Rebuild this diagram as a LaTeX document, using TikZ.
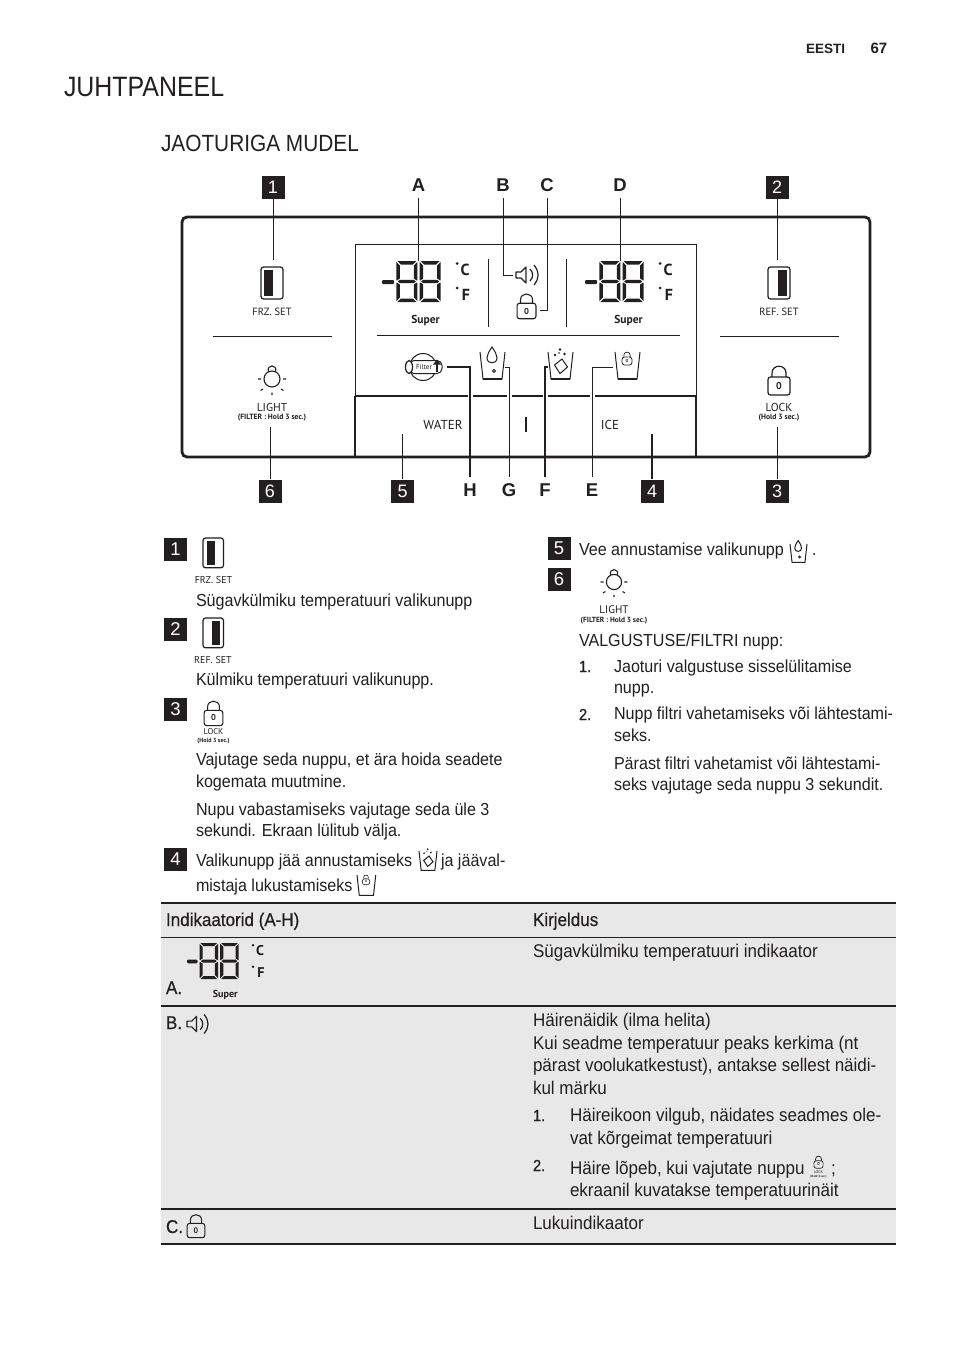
\documentclass[tikz,border=0pt]{standalone}
\usepackage{fontspec}
\usetikzlibrary{calc}
\setmainfont[FakeStretch=0.925]{Liberation Sans}
\newfontfamily\headfam[FakeStretch=0.89]{Liberation Sans}
\newfontfamily\strongfam[FakeStretch=0.92,FakeBold=0.5]{Liberation Sans}
\newfontfamily\arialfam{Liberation Sans}
\newfontfamily\panelfam{PT Sans}
\newcommand\fs[1]{\fontsize{#1}{#1}\selectfont}
\definecolor{ink}{HTML}{231F20}
\definecolor{rowgray}{HTML}{E8E8E8}
\newcounter{nn}
\tikzset{
  txt/.style={inner sep=0pt,outer sep=0pt,anchor=base west,font=\fs{17.4},text=ink},
  tabt/.style={font=\fs{18.4}},
  tabs/.style={font=\strongfam\fs{18.5}},
  ptxt/.style={inner sep=0pt,outer sep=0pt,anchor=center,text=ink,font=\panelfam\fs{11}},
  bx/.style={draw=ink,line width=1.2pt,rounded corners=2.5pt},
  lead/.style={draw=ink,line width=1pt},
  leadb/.style={draw=ink,line width=1.4pt},
  badge/.style={fill=ink,text=white,inner sep=0pt,minimum width=23pt,minimum height=23pt,font=\arialfam\fs{18}},
  lbl/.style={inner sep=0pt,minimum height=26pt,font=\arialfam\bfseries\fs{18.5},text=ink},
}
\newcommand\T[4][]{\stepcounter{nn}\node[txt,#1] (n\arabic{nn}) at (#2,#3) {#4};}
\newcommand\PT[4][]{\stepcounter{nn}\node[ptxt,#1] (n\arabic{nn}) at (#2,#3) {#4};}
\newcommand\segdigit[1]{%
  \begin{scope}[shift={(#1,0)}]
    \fill[ink] (1,0)--(20,0)--(16.5,3.5)--(4.5,3.5)--cycle;
    \fill[ink] (3.5,18.8)--(17.5,18.8)--(19.5,20.5)--(17.5,22.2)--(3.5,22.2)--(1.5,20.5)--cycle;
    \fill[ink] (1,41)--(20,41)--(16.5,37.5)--(4.5,37.5)--cycle;
    \fill[ink] (0,1)--(3.5,4.5)--(3.5,17.5)--(0.5,19.5)--(0,19)--cycle;
    \fill[ink] (21,1)--(17.5,4.5)--(17.5,17.5)--(20.5,19.5)--(21,19)--cycle;
    \fill[ink] (0,40)--(3.5,36.5)--(3.5,23.5)--(0.5,21.5)--(0,22)--cycle;
    \fill[ink] (21,40)--(17.5,36.5)--(17.5,23.5)--(20.5,21.5)--(21,22)--cycle;
  \end{scope}}
\newcommand\disp[3]{%
  \begin{scope}[shift={(#1,#2)},scale=#3,transform shape]
    \fill[ink,rounded corners=1pt] (0,19) rectangle (12,23);
    \segdigit{14.3}\segdigit{37.7}
    \fill[ink] (75,2.5) circle (1.5);
    \fill[ink] (75,27) circle (1.5);
    \PT[font=\panelfam\bfseries\fs{16}]{83}{9}{C}
    \PT[font=\panelfam\bfseries\fs{16}]{84}{34}{F}
    \PT[font=\panelfam\bfseries\fs{11.5}]{43.5}{59.5}{Super}
  \end{scope}}
\newcommand\btn[4]{% x y scale barx
  \begin{scope}[shift={(#1,#2)},scale=#3]
    \draw[bx] (0,0) rectangle (22,32);
    \fill[ink] (#4,3) rectangle ++(9,26);
  \end{scope}}
\newcommand\lockicon[3]{% x y scale
  \begin{scope}[shift={(#1,#2)},scale=#3,transform shape]
    \draw[bx,line width={(0.3+0.9*(#3))*1pt}] (-11,-9) rectangle (11,9);
    \draw[draw=ink,line width={(0.3+0.9*(#3))*1pt}] (-7,-9) -- (-7,-13) .. controls (-7,-22) and (7,-22) .. (7,-13) -- (7,-9);
    \PT[font=\panelfam\bfseries\fs{10}]{0}{0}{0}
  \end{scope}}
\newcommand\bulb[3]{%
  \begin{scope}[shift={(#1,#2)},scale=#3]
    \draw[ink,line width=1.1pt] (0,0) circle (8);
    \draw[ink,line width=1.1pt] (-3.5,-7.2) .. controls (-6,-15) and (6,-15) .. (3.5,-7.2);
    \draw[ink,line width=1.1pt] (-14,0)--(-11,0) (11,0)--(14,0) (-11.5,11.5)--(-9,10) (11.5,11.5)--(9,10) (0,13.5)--(0,16);
  \end{scope}}
\newcommand\cupbase[3]{% x y scale
  \begin{scope}[shift={(#1,#2)},scale=#3]
  \draw[ink,line width=1pt] (0,0) -- (3,27) -- (22,27) -- (25,0);
  \draw[ink,line width=1.5pt] (3,27) -- (22,27);
  \end{scope}}
\newcommand\watercup[3]{\cupbase{#1}{#2}{#3}%
  \begin{scope}[shift={(#1,#2)},scale=#3]
    \draw[ink,line width=1pt] (12,-5) .. controls (9,0) and (7,2) .. (7,6) .. controls (7,12.5) and (17,12.5) .. (17,6) .. controls (17,2) and (15,0) .. (12,-5) -- cycle;
    \draw[ink,line width=.8pt] (14,19) circle (1.5);
  \end{scope}}
\newcommand\icecup[3]{\cupbase{#1}{#2}{#3}%
  \begin{scope}[shift={(#1,#2)},scale=#3]
    \draw[ink,line width=1pt] (6.5,13) -- (14,7) -- (19.5,15) -- (12,21.5) -- cycle;
    \fill[ink] (7,3) circle (1.3) (12,-2.5) circle (1.3) (16.5,2) circle (1.3) (11,1) circle (.8);
  \end{scope}}
\newcommand\lockcup[3]{\cupbase{#1}{#2}{#3}%
  \lockicon{#1+12*#3}{#2+9*#3}{0.45*#3}}
\newcommand\speaker[3]{%
  \begin{scope}[shift={(#1,#2)},scale=#3]
    \draw[ink,line width=1.1pt,line join=round] (0,-3)--(5,-3)--(10,-8)--(10,8)--(5,3)--(0,3)--cycle;
    \draw[ink,line width=1.2pt] (14,-6) .. controls (17.5,-2) and (17.5,2) .. (14,6);
    \draw[ink,line width=1.2pt] (18,-10) .. controls (23.5,-3) and (23.5,3) .. (18,10);
  \end{scope}}
\begin{document}
\begin{tikzpicture}[x=1pt,y=-1pt]
\useasboundingbox (0,0) rectangle (954,1354);
\fill[white] (0,0) rectangle (954,1354);
%--- header
\T[font=\arialfam\bfseries\fs{13.5}]{806}{53}{EESTI}
\T[font=\arialfam\bfseries\fs{15}]{870.5}{53}{67}
\T[font=\headfam\fs{28}]{64}{96}{JUHTPANEEL}
\T[font=\headfam\fs{23.4}]{161}{151}{JAOTURIGA MUDEL}
%--- panel outline
\draw[ink,line width=2.8pt,rounded corners=5pt] (182,217) rectangle (870,457);
\draw[ink,line width=1pt] (355,396) -- (355,244) -- (696,244) -- (696,396);
\draw[ink,line width=2.6pt] (355,396) -- (696,396);
\draw[ink,line width=2.6pt] (355,396) -- (355,457);
\draw[ink,line width=1.6pt] (696,396) -- (696,457);
\draw[ink,line width=1pt] (213,336) -- (332,336);
\draw[ink,line width=1pt] (720,336) -- (839,336);
\draw[ink,line width=1pt] (377,335) -- (680,335);
\draw[ink,line width=.9pt] (488,259) -- (488,327);
\draw[ink,line width=.9pt] (566,259) -- (566,327);
\draw[ink,line width=2pt] (525.7,417) -- (525.7,432);
\foreach \gx in {470,509,545,592} \draw[white,line width=5pt] (\gx,391) -- (\gx,401);
%--- panel contents
\btn{261}{267}{1}{3}
\PT[font=\panelfam\fs{10.5}]{272}{312}{FRZ. SET}
\btn{768}{267}{1}{9.5}
\PT[font=\panelfam\fs{10.5}]{779}{312}{REF. SET}
\bulb{272}{379}{1}
\PT[font=\panelfam\fs{11.5}]{272}{407}{LIGHT}
\PT[font=\panelfam\bfseries\fs{7.6}]{272}{418}{(FILTER : Hold 3 sec.)}
\lockicon{779}{386}{1}
\PT[font=\panelfam\fs{11.5}]{779}{407}{LOCK}
\PT[font=\panelfam\bfseries\fs{7.6}]{779}{418}{(Hold 3 sec.)}
\disp{382}{261}{1}
\disp{585}{261}{1}
\speaker{516}{275}{1}
\lockicon{526.5}{311}{.86}
% filter icon
\draw[ink,line width=1pt] (423,367) circle (13.5);
\fill[white,draw=ink,line width=1pt,rounded corners=5pt] (409,360.5) rectangle (442,373.5);
\draw[ink,line width=1.2pt,fill=white] (409,367) ellipse (3.5 and 6.5);
\PT[font=\panelfam\fs{7}]{424}{367}{Filter}
\fill[ink] (433,364.5) -- (437,359.5) -- (441,364.5) -- cycle;
\draw[ink,line width=1.4pt] (437,364) -- (437,372);
\watercup{480}{352}{1}
\icecup{548}{352}{1}
\lockcup{615}{352}{1}
\PT[font=\panelfam\fs{13}]{443}{425}{WATER}
\PT[font=\panelfam\fs{13}]{610}{425}{ICE}
%--- callouts
\node[badge] (b1) at (273,187) {1};
\node[badge] (b2) at (777,187) {2};
\node[badge] (b3) at (777,491) {3};
\node[badge] (b4) at (652,491) {4};
\node[badge] (b5) at (402.5,491) {5};
\node[badge] (b6) at (270,491) {6};
\node[lbl] (la) at (418.5,185) {A};
\node[lbl] (lb) at (503,185) {B};
\node[lbl] (lc) at (547,185) {C};
\node[lbl] (ld) at (620,185) {D};
\node[lbl] (lh) at (470,490) {H};
\node[lbl] (lg) at (509,490) {G};
\node[lbl] (lf) at (545,490) {F};
\node[lbl] (le) at (592,490) {E};
\coordinate (e1) at (273,260); \coordinate (e2) at (777,260);
\coordinate (e3) at (777,427); \coordinate (e4) at (652,434);
\coordinate (e5) at (402.5,434); \coordinate (e6) at (270,427);
\coordinate (ea) at (418.5,261); \coordinate (eb) at (513,275);
\coordinate (ec) at (540,310); \coordinate (ed) at (620,261);
\coordinate (eh) at (447,367); \coordinate (eg) at (505,367);
\coordinate (ef) at (548,367); \coordinate (ee) at (613,367);
\draw[lead] (b1.south) -- (e1);
\draw[lead] (b2.south) -- (e2);
\draw[lead] (b3.north) -- (e3);
\draw[leadb] (b4.north) -- (e4);
\draw[lead] (b5.north) -- (e5);
\draw[lead] (b6.north) -- (e6);
\draw[lead] (la.south) -- (ea);
\draw[lead] (lb.south) |- (eb);
\draw[lead] (lc.south) |- (ec);
\draw[lead] (ld.south) -- (ed);
\draw[leadb] (lh.north) |- (eh);
\draw[lead] (lg.north) |- (eg);
\draw[leadb] (lf.north) |- (ef);
\draw[lead] (le.north) |- (ee);
%--- left list
\tikzset{lbadge/.style={badge,font=\arialfam\fs{18.5}}}
\node[lbadge] (p1) at (175.5,549) {1};
\node[lbadge] (p2) at (175.5,629) {2};
\node[lbadge] (p3) at (175.5,709) {3};
\node[lbadge] (p4) at (175.5,859) {4};
\node[lbadge] (p5) at (559,548) {5};
\node[lbadge] (p6) at (559,579) {6};
\btn{203}{538}{.93}{4}
\PT[font=\panelfam\fs{10}]{213.5}{580}{FRZ. SET}
\T{196}{606}{Sügavkülmiku temperatuuri valikunupp}
\btn{203}{618}{.93}{9.5}
\PT[font=\panelfam\fs{10}]{213}{660}{REF. SET}
\T{196}{685}{Külmiku temperatuuri valikunupp.}
\lockicon{213.5}{718}{.85}
\PT[font=\panelfam\fs{8.5}]{213.5}{732}{LOCK}
\PT[font=\panelfam\bfseries\fs{6}]{213.5}{741}{(Hold 3 sec.)}
\T{196}{765}{Vajutage seda nuppu, et ära hoida seadete}
\T{196}{787}{kogemata muutmine.}
\T{196}{815}{Nupu vabastamiseks vajutage seda üle 3}
\T{196}{836}{sekundi. Ekraan lülitub välja.}
\T{196}{866}{Valikunupp jää annustamiseks}
\icecup{419}{851}{.72}
\T{441}{866}{ja jääval-}
\T{196}{891}{mistaja lukustamiseks}
\lockcup{357}{875}{.75}
%--- right list
\T{579}{555}{Vee annustamise valikunupp}
\watercup{790}{544}{.68}
\T{812}{555}{.}
\bulb{614}{582}{.95}
\PT[font=\panelfam\fs{11}]{614}{610}{LIGHT}
\PT[font=\panelfam\bfseries\fs{7.4}]{614}{620.5}{(FILTER : Hold 3 sec.)}
\T{579}{646}{VALGUSTUSE/FILTRI nupp:}
\T[font=\strongfam\fs{16}]{579}{672}{1.}
\T{614}{672}{Jaoturi valgustuse sisselülitamise}
\T{614}{693.5}{nupp.}
\T[font=\strongfam\fs{16}]{579}{720}{2.}
\T{614}{719}{Nupp filtri vahetamiseks või lähtestami-}
\T{614}{741}{seks.}
\T{614}{769}{Pärast filtri vahetamist või lähtestami-}
\T{614}{790}{seks vajutage seda nuppu 3 sekundit.}
%--- table
\fill[rowgray] (161,903) rectangle (896,1244);
\draw[ink,line width=1.6pt] (161,903) -- (896,903);
\draw[ink,line width=.9pt] (161,937) -- (896,937);
\draw[ink,line width=1.6pt] (161,1006) -- (896,1006);
\draw[ink,line width=1.6pt] (161,1209) -- (896,1209);
\draw[ink,line width=1.6pt] (161,1244) -- (896,1244);
\T[tabs]{166}{926}{Indikaatorid (A-H)}
\T[tabs]{533}{926}{Kirjeldus}
\T[tabs]{166}{994}{A.}
\disp{187}{943}{.88}
\T[tabt]{533}{957}{Sügavkülmiku temperatuuri indikaator}
\T[tabs]{166}{1029}{B.}
\speaker{187}{1024}{.95}
\T[tabt]{533}{1026.5}{Häirenäidik (ilma helita)}
\T[tabt]{533}{1049}{Kui seadme temperatuur peaks kerkima (nt}
\T[tabt]{533}{1071}{pärast voolukatkestust), antakse sellest näidi-}
\T[tabt]{533}{1094}{kul märku}
\T[font=\strongfam\fs{16}]{533}{1121}{1.}
\T[tabt]{570}{1121}{Häireikoon vilgub, näidates seadmes ole-}
\T[tabt]{570}{1144}{vat kõrgeimat temperatuuri}
\T[font=\strongfam\fs{16}]{533}{1171}{2.}
\T[tabt]{570}{1174}{Häire lõpeb, kui vajutate nuppu}
\lockicon{818.5}{1164.5}{.42}
\PT[font=\panelfam\fs{4}]{818.5}{1172}{LOCK}
\PT[font=\panelfam\bfseries\fs{3}]{818.5}{1176.5}{(Hold 3 sec.)}
\T[tabt]{831}{1174}{;}
\T[tabt]{570}{1196}{ekraanil kuvatakse temperatuurinäit}
\T[tabs]{166}{1233}{C.}
\lockicon{196}{1230.5}{.8}
\T[tabt]{533}{1229}{Lukuindikaator}
\end{tikzpicture}
\end{document}
